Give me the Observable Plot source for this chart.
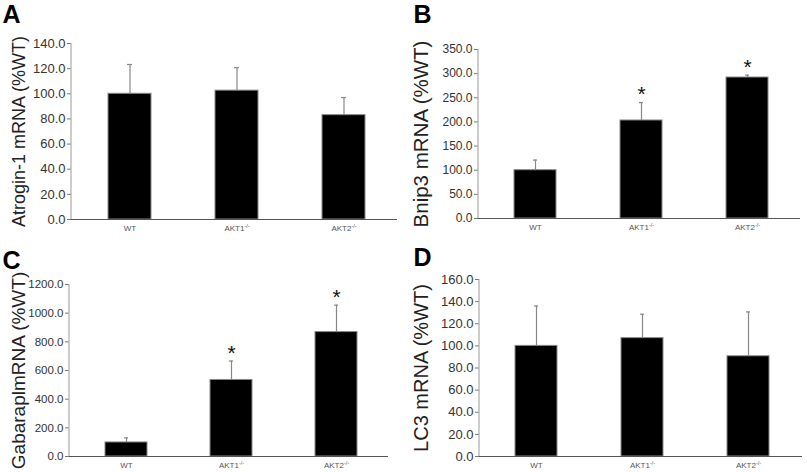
<!DOCTYPE html>
<html>
<head>
<meta charset="utf-8">
<script src="https://cdn.jsdelivr.net/npm/d3@7"></script>
<script src="https://cdn.jsdelivr.net/npm/@observablehq/plot@0.6"></script>
<style>
  html, body { margin: 0; padding: 0; background: #fff; }
  #wrap { position: relative; width: 807px; height: 472px; overflow: hidden; background: #fff; }
  .panel { position: absolute; }
</style>
</head>
<body>
<div id="wrap"></div>
<script>
// ---- data ----
const categories = ["WT", "AKT1-/-", "AKT2-/-"];

const atroginMean = [100, 102.5, 83];
const atroginErr  = [123.3, 120.8, 97];
const atroginSig  = [false, false, false];
const atroginTicks = [0, 20, 40, 60, 80, 100, 120, 140];

const bnip3Mean = [100, 203, 292];
const bnip3Err  = [121, 240, 297];
const bnip3Sig  = [false, true, true];
const bnip3Ticks = [0, 50, 100, 150, 200, 250, 300, 350];

const gabaMean = [98, 534, 868];
const gabaErr  = [130, 666, 1056];
const gabaSig  = [false, true, true];
const gabaTicks = [0, 200, 400, 600, 800, 1000, 1200];

const lc3Mean = [100, 107, 90.6];
const lc3Err  = [136, 128.6, 130.7];
const lc3Sig  = [false, false, false];
const lc3Ticks = [0, 20, 40, 60, 80, 100, 120, 140, 160];

const panels = [
  {letter: "A", label: "Atrogin-1 mRNA (%WT)", mean: atroginMean, err: atroginErr, sig: atroginSig, ticks: atroginTicks,
   left: 0, top: 0, width: 400, mL: 71, mR: 3, mT: 43, mB: 17, labelDx: -52, labelSize: 18, tickSize: 13, letterX: 2, letterY: 14},
  {letter: "B", label: "Bnip3 mRNA (%WT)", mean: bnip3Mean, err: bnip3Err, sig: bnip3Sig, ticks: bnip3Ticks,
   left: 400, top: 0, width: 407, mL: 78, mR: 7, mT: 49, mB: 18, labelDx: -57, labelSize: 20.5, tickSize: 12, letterX: 13, letterY: 14},
  {letter: "C", label: "GabaraplmRNA (%WT)", mean: gabaMean, err: gabaErr, sig: gabaSig, ticks: gabaTicks,
   left: 0, top: 236, width: 400, mL: 69, mR: 12, mT: 48, mB: 16, labelDx: -51, labelSize: 19, tickSize: 11.5, letterX: 2, letterY: 24},
  {letter: "D", label: "LC3 mRNA (%WT)", mean: lc3Mean, err: lc3Err, sig: lc3Sig, ticks: lc3Ticks,
   left: 400, top: 236, width: 407, mL: 79, mR: 5, mT: 43, mB: 16, labelDx: -57.5, labelSize: 20, tickSize: 13, letterX: 13, letterY: 21}
];

const wrap = document.getElementById("wrap");
const svgns = "http://www.w3.org/2000/svg";

for (const p of panels) {
  const rows = categories.map((c, i) => ({cat: c, mean: p.mean[i], err: p.err[i], sig: p.sig[i]}));
  const yMax = p.ticks[p.ticks.length - 1];
  const height = 236;

  const leftAxisLine = (index, scales, values, dims) => {
    const l = document.createElementNS(svgns, "line");
    l.setAttribute("x1", dims.marginLeft);
    l.setAttribute("x2", dims.marginLeft);
    l.setAttribute("y1", dims.marginTop);
    l.setAttribute("y2", dims.height - dims.marginBottom);
    l.setAttribute("stroke", "#aaa");
    l.setAttribute("stroke-width", 1.2);
    return l;
  };

  const chart = Plot.plot({
    width: p.width,
    height,
    marginLeft: p.mL,
    marginRight: p.mR,
    marginTop: p.mT,
    marginBottom: p.mB,
    style: {fontFamily: "'Liberation Sans', Arial, sans-serif", background: "transparent", overflow: "visible", color: "#333"},
    x: {domain: categories, paddingInner: 0.6, paddingOuter: 0.31, align: 0.53, axis: null},
    y: {domain: [0, yMax], axis: null},
    marks: [
      Plot.axisY({ticks: p.ticks, tickFormat: d3.format(".1f"), tickSize: 4, tickPadding: 2, fontSize: p.tickSize, label: null, stroke: "#777", fill: "#333"}),
      Plot.axisX({tickSize: 0, tickPadding: 6, fontSize: 8, label: null, fill: "#555"}),
      Plot.barY(rows, {x: "cat", y: "mean", fill: "#000", stroke: "#888", strokeWidth: 1}),
      Plot.ruleX(rows, {x: "cat", y1: "mean", y2: "err", stroke: "#888", strokeWidth: 1.2}),
      Plot.tickY(rows, {x: "cat", y: "err", stroke: "#888", strokeWidth: 1.2, insetLeft: 19, insetRight: 19}),
      Plot.text(rows.filter(d => d.sig), {x: "cat", y: "err", text: () => "*", dy: -8, fontSize: 21, fill: "#111"}),
      Plot.ruleY([0], {stroke: "#555", strokeWidth: 1.2}),
      leftAxisLine,
      Plot.text([p.label], {frameAnchor: "left", textAnchor: "middle", lineAnchor: "middle", rotate: -90, dx: p.labelDx, fontSize: p.labelSize, fill: "#222"}),
      Plot.text([p.letter], {frameAnchor: "top-left", textAnchor: "start", lineAnchor: "middle", dx: p.letterX - p.mL, dy: p.letterY - p.mT, fontSize: 25, fontWeight: "bold", fill: "#000"})
    ]
  });

  // superscript "-/-" in genotype tick labels
  chart.querySelectorAll("text").forEach(t => {
    const s = t.textContent;
    if (s.endsWith("-/-") && t.childElementCount === 0) {
      const base = s.slice(0, -3);
      t.textContent = "";
      const a = document.createElementNS(svgns, "tspan");
      a.textContent = base;
      const b = document.createElementNS(svgns, "tspan");
      b.textContent = "-/-";
      b.setAttribute("font-size", "5.5");
      b.setAttribute("dy", "-3");
      t.appendChild(a);
      t.appendChild(b);
    }
  });

  const div = document.createElement("div");
  div.className = "panel";
  div.style.left = p.left + "px";
  div.style.top = p.top + "px";
  div.appendChild(chart);
  wrap.appendChild(div);
}
</script>
</body>
</html>
